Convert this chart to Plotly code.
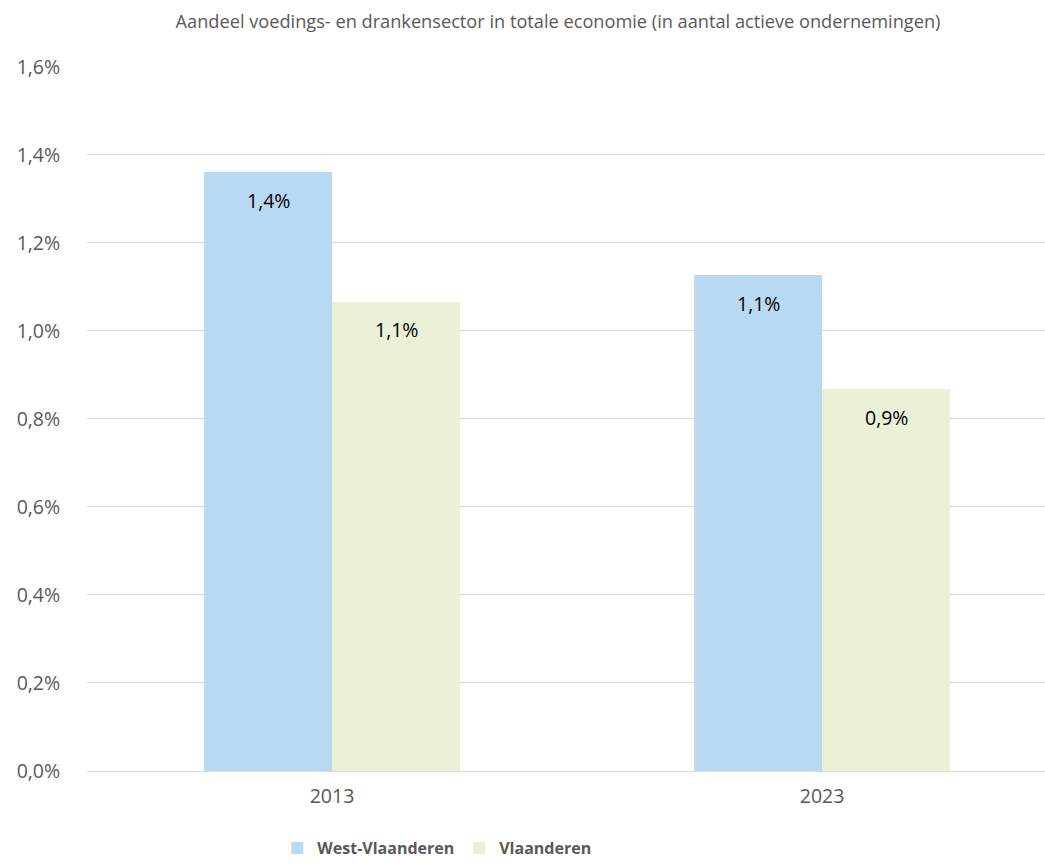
import plotly.graph_objects as go

categories = ["2013", "2023"]
west_vlaanderen = [0.01361, 0.01127]
vlaanderen = [0.01066, 0.00868]
tick_vals = [0, 0.002, 0.004, 0.006, 0.008, 0.010, 0.012, 0.014, 0.016]

FONT = "Open Sans"
GREY = "#595959"

fig = go.Figure()
series = [("West-Vlaanderen", west_vlaanderen, "#B9D9F3", -64),
          ("Vlaanderen", vlaanderen, "#EBF1D6", 64)]
for name, vals, col, shift in series:
    fig.add_trace(go.Bar(
        name=name, x=categories, y=vals,
        marker=dict(color=col, line=dict(width=0)),
    ))
    for i, v in enumerate(vals):
        fig.add_annotation(
            x=i, y=v, xref="x", yref="y", xshift=shift, yshift=-28,
            text=f"{v*100:.1f}%".replace(".", ","), showarrow=False,
            xanchor="center", yanchor="middle",
            font=dict(family=FONT, size=19.5, color="#000000"),
        )

fig.update_layout(
    width=1045, height=865,
    paper_bgcolor="white", plot_bgcolor="white",
    separators=",.",
    barmode="group", bargap=0.478, bargroupgap=0,
    margin=dict(l=87, r=0, t=66, b=94, autoexpand=False),
    title=dict(
        text="Aandeel voedings- en drankensector in totale economie (in aantal actieve ondernemingen)",
        x=0.534, xref="container", xanchor="center",
        y=1 - 22 / 865, yref="container", yanchor="middle",
        font=dict(family=FONT, size=18.2, color=GREY),
    ),
    xaxis=dict(
        type="category", range=[-0.5, 1.455], automargin=False,
        showgrid=False, showline=False, ticks="outside", ticklen=8,
        tickcolor="rgba(0,0,0,0)",
        tickfont=dict(family=FONT, size=19.5, color=GREY),
    ),
    yaxis=dict(
        range=[0, 0.01602], tickvals=tick_vals, tickformat=".1%", automargin=False,
        showgrid=True, gridcolor="#D9D9D9", gridwidth=1.3,
        zeroline=True, zerolinecolor="#D9D9D9", zerolinewidth=1.3,
        showline=False, ticks="outside", ticklen=22, tickcolor="rgba(0,0,0,0)",
        tickfont=dict(family=FONT, size=19.5, color=GREY),
    ),
    legend=dict(
        orientation="h", x=0.418, xanchor="center", xref="container",
        y=-(848 - 771) / 705, yref="paper", yanchor="middle",
        font=dict(family=FONT, size=16, color=GREY, weight="bold"),
        itemwidth=30, tracegroupgap=0,
    ),
)

fig.write_html("out.html", config={"displayModeBar": False},
               post_script="document.body.style.margin='0';")
